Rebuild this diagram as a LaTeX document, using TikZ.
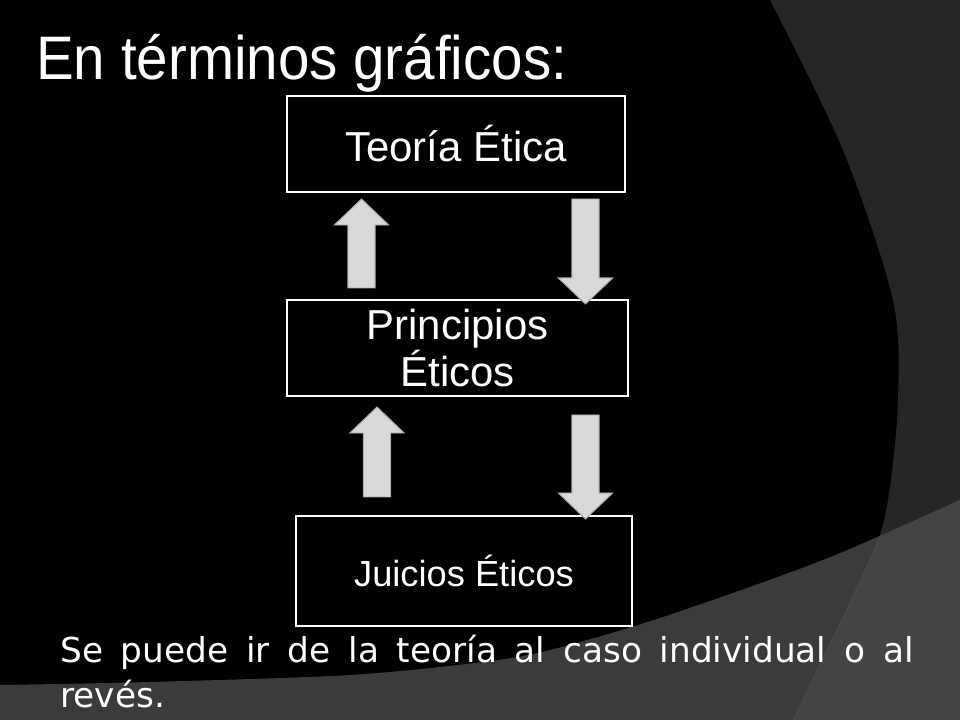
\documentclass[tikz,border=0pt]{standalone}
\usepackage{fontspec}
\setmainfont{Liberation Sans}
\newfontfamily\titlefont[FakeStretch=0.92]{Liberation Sans}
\newfontfamily\bodyfont{DejaVu Sans}
\usetikzlibrary{calc}

\definecolor{bgdark}{HTML}{262626}
\definecolor{bggray}{HTML}{3B3B3B}
\definecolor{bglight}{HTML}{444444}
\definecolor{arrowfill}{HTML}{D9D9D9}
\definecolor{arrowline}{HTML}{A6A6A6}

\tikzset{
  etbox/.style={draw=white, line width=1.4pt, fill=black, text=white,
    rectangle, inner sep=0pt, align=center,
    font=\fontsize{29.8}{32}\selectfont},
  blockarrow/.style={fill=arrowfill, draw=arrowline, line width=0.7pt,
    line join=miter}
}

% block arrow from tail #1 to tip #2
\newcommand{\blockarrow}[2]{%
  \coordinate (hb) at ($(#2)!0.65cm!(#1)$);
  \filldraw[blockarrow] ($(#1)!0.34cm!90:(#2)$) -- ($(hb)!0.34cm!90:(#2)$)
    -- ($(hb)!0.68cm!90:(#2)$) -- (#2) -- ($(hb)!0.68cm!-90:(#2)$)
    -- ($(hb)!0.34cm!-90:(#2)$) -- ($(#1)!0.34cm!-90:(#2)$) -- cycle;}

\begin{document}
\begin{tikzpicture}[x=0.025cm, y=-0.025cm]
    \useasboundingbox (0,0) rectangle (960,720) ;
    % background
    \fill [black] (0,0) rectangle (960,720) ;
    \fill [bgdark] plot [smooth] coordinates {(770,0) (843,150) (893,300)
      (898,400) (888,500) (870,560) (793,720)} -- (960,720) -- (960,0) -- cycle ;
    \fill [bggray] plot [smooth] coordinates {(0,685) (150,682) (350,675)
      (483,662) (550,650) (660,618) (823,560) (960,500)} -- (960,720) -- (0,720) -- cycle ;
    \begin{scope}
      \clip plot [smooth] coordinates {(0,685) (150,682) (350,675)
        (483,662) (550,650) (660,618) (823,560) (960,500)} -- (960,720) -- (0,720) -- cycle ;
      \fill [bglight] plot [smooth] coordinates {(770,0) (843,150) (893,300)
        (898,400) (888,500) (870,560) (793,720)} -- (960,720) -- (960,0) -- cycle ;
      \draw [gray!60!black, line width=0.6pt] plot [smooth] coordinates {(770,0)
        (843,150) (893,300) (898,400) (888,500) (870,560) (793,720)} ;
    \end{scope}

    % title
    \node [anchor=base west, inner sep=0pt, text=white] (titulo) at (36,80)
      {\titlefont\fontsize{43.7}{48}\selectfont En términos gráficos:} ;

    % boxes
    \node [etbox, minimum width=8.45cm, minimum height=2.4cm] (teoria) at (456,144)
      {Teoría Ética} ;
    \node [etbox, minimum width=8.525cm, minimum height=2.4cm] (principios) at (457.5,348)
      {Principios\\Éticos} ;
    \node [etbox, minimum width=8.4cm, minimum height=2.75cm,
      font=\fontsize{25.8}{28}\selectfont] (juicios) at (464,571) {Juicios Éticos} ;

    % arrows
    \foreach \x/\a/\b in {361.5/288/199, 585.5/199/304, 377/497/407, 585.5/415/519} {
      \coordinate (tail) at (\x,\a) ;
      \coordinate (tip) at (\x,\b) ;
      \blockarrow{tail}{tip}
    }

    % note
    \node [anchor=north west, inner sep=0pt, text=white, text width=21.325cm,
      align=justify, font=\bodyfont\fontsize{24.4}{32}\selectfont] (nota) at (60,635)
      {Se puede ir de la teoría al caso individual o al\linebreak revés.} ;
  \end{tikzpicture}
\end{document}
